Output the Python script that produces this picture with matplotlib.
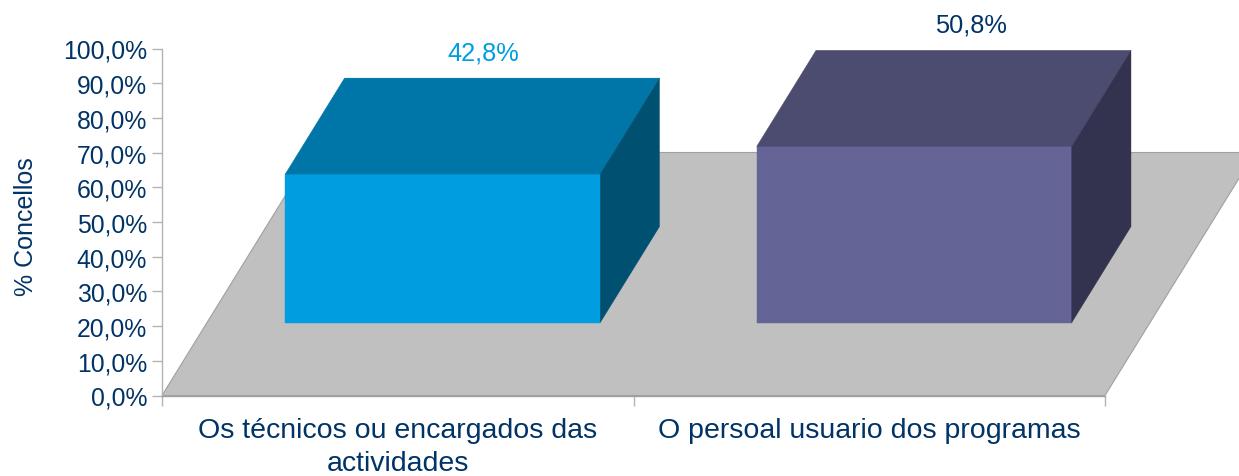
import matplotlib
matplotlib.use('Agg')
import matplotlib.pyplot as plt

plt.rcParams['font.family'] = ['Liberation Sans', 'DejaVu Sans']

categories = ['Os técnicos ou encargados das\nactividades', 'O persoal usuario dos programas']
values = [42.8, 50.8]
value_labels = ['42,8%', '50,8%']
y_ticks = [0, 10, 20, 30, 40, 50, 60, 70, 80, 90, 100]
y_tick_labels = ['0,0%', '10,0%', '20,0%', '30,0%', '40,0%', '50,0%', '60,0%', '70,0%', '80,0%', '90,0%', '100,0%']

front_colors = ['#009ee0', '#646496']
top_colors = ['#0076a8', '#4c4c70']
side_colors = ['#005072', '#33334f']
label_colors = ['#009ee0', '#003366']
label_shift = [40, 57]  # px, the labels are not centred the same way

TEXT = '#003366'
AXIS = '#b3b3b3'
W, H = 1239, 477

# fake 3d: depth goes right and up by a fixed amount
DEPTH_X = 150 / 471.5
DEPTH_Y = 243 / 3.47
BAR_W = 0.668
D0, D1 = 0.30, 0.695


def proj(x, y, d):
    return x + d * DEPTH_X, y + d * DEPTH_Y


def face(ax, pts, color, edge, z, lw=0.3):
    xs = [p[0] for p in pts]
    ys = [p[1] for p in pts]
    ax.fill(xs, ys, facecolor=color, edgecolor=edge, linewidth=lw, zorder=z, clip_on=False)


fig = plt.figure(figsize=(W / 100, H / 100), dpi=100)
ax = fig.add_axes([162 / W, (H - 396.5) / H, (1105 - 162) / W, 347 / H])
ax.set_xlim(0, 2)
ax.set_ylim(0, 100)

# floor
face(ax, [proj(0, 0, 0), proj(2, 0, 0), proj(2, 0, 1), proj(0, 0, 1)], '#c0c0c0', '#a0a0a0', 1, lw=0.8)

px = 72 / 100
for i, v in enumerate(values):
    c = i + 0.5
    l, r = c - BAR_W / 2, c + BAR_W / 2
    face(ax, [proj(l, 0, D0), proj(r, 0, D0), proj(r, v, D0), proj(l, v, D0)], front_colors[i], front_colors[i], 3)
    face(ax, [proj(l, v, D0), proj(r, v, D0), proj(r, v, D1), proj(l, v, D1)], top_colors[i], top_colors[i], 3)
    face(ax, [proj(r, 0, D0), proj(r, 0, D1), proj(r, v, D1), proj(r, v, D0)], side_colors[i], side_colors[i], 3)
    ax.annotate(value_labels[i], xy=(proj(c, v, D0)[0], proj(c, v, D1)[1]), xycoords='data',
                xytext=(label_shift[i] * px, 26 * px), textcoords='offset points',
                ha='center', va='center', fontsize=18.3, color=label_colors[i], annotation_clip=False)

ax.set_yticks(y_ticks)
ax.set_yticklabels(y_tick_labels)
ax.set_xticks([0, 1, 2])
ax.set_xticklabels([])
ax.set_xticks([0.5, 1.5], minor=True)
ax.set_xticklabels(categories, minor=True, ha='center')
ax.tick_params(axis='x', which='minor', length=0, pad=15.5, labelsize=20.5, labelcolor=TEXT)
ax.tick_params(axis='x', which='major', length=7.2, width=1, color=AXIS)
ax.tick_params(axis='y', length=7.2, width=1, color=AXIS, labelsize=17.8, labelcolor=TEXT, pad=3.5)
for t in ax.get_xticklabels(minor=True):
    t.set_linespacing(1.36)

ax.spines['top'].set_visible(False)
ax.spines['right'].set_visible(False)
ax.spines['left'].set_color(AXIS)
ax.spines['left'].set_linewidth(1)
ax.spines['bottom'].set_color('#a0a0a0')
ax.spines['bottom'].set_linewidth(1)
ax.patch.set_alpha(0)

fig.text(26 / W, (H - 227) / H, '% Concellos', rotation=90, ha='center', va='center', fontsize=18, color=TEXT)

fig.savefig('out.png', dpi=100)
